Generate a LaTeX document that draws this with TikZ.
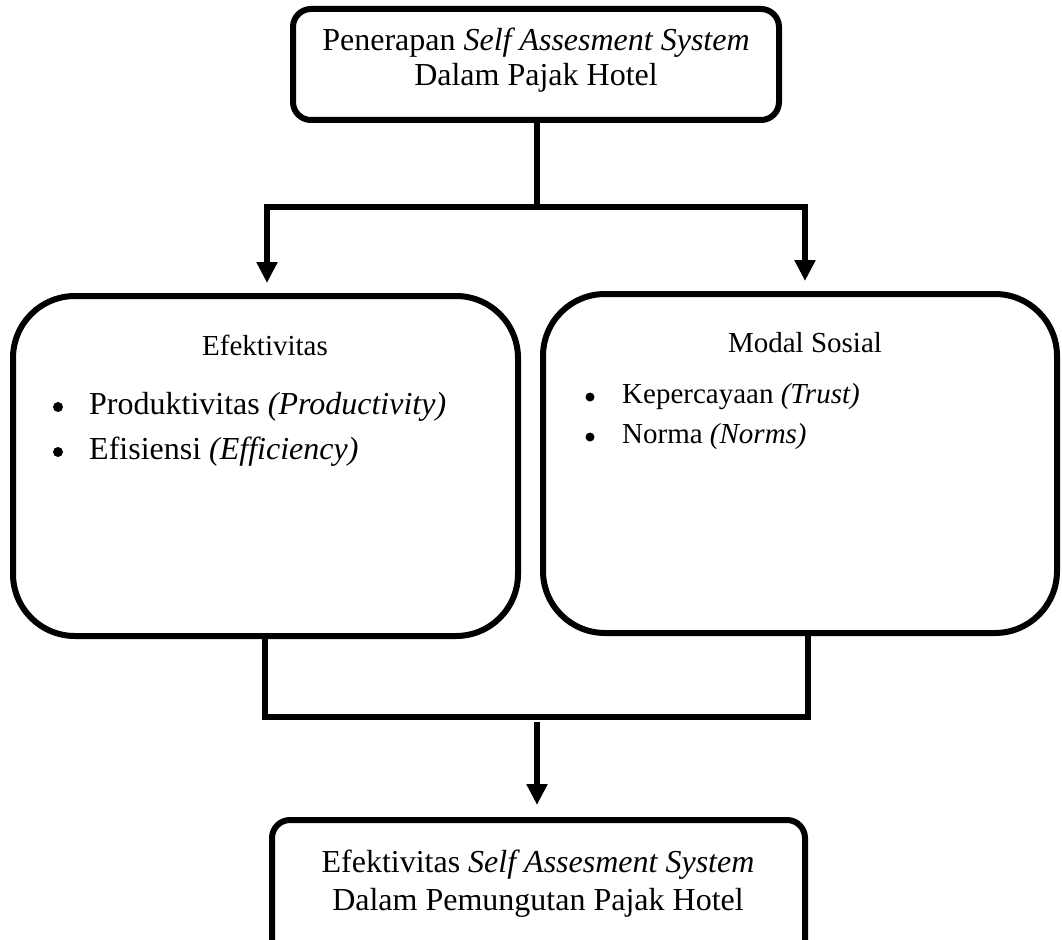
\documentclass[tikz,border=0pt]{standalone}
\usepackage{fontspec}
\setmainfont{Liberation Serif}
\usetikzlibrary{arrows.meta}
\begin{document}
\begin{tikzpicture}[x=1pt,y=-1pt,
  box/.style={draw, line width=6pt, rounded corners=18pt, inner sep=0pt},
  bigbox/.style={draw, line width=6pt, rounded corners=62pt, inner sep=0pt},
  conn/.style={line width=6pt},
  arr/.style={conn, -{Triangle[length=21pt,width=20pt]}},
  dot/.style={circle, fill, inner sep=0pt},
  ftop/.style={font=\fontsize{32}{35}\selectfont},
  fbot/.style={font=\fontsize{32}{38}\selectfont},
  fhead/.style={font=\fontsize{29}{33}\selectfont},
  fleft/.style={font=\fontsize{32}{38}\selectfont},
  fright/.style={font=\fontsize{29}{33}\selectfont}]
\clip (0,0) rectangle (1062,939);
\useasboundingbox (0,0) rectangle (1062,939);
% top box
\node[box, minimum width=486pt, minimum height=111pt] (top) at (536,64.5) {};
\node[ftop, align=center] (toptext) at (536,60) {Penerapan \textit{Self Assesment System}\\Dalam Pajak Hotel};
% big boxes
\node[bigbox, minimum width=505pt, minimum height=340pt] (left) at (265.5,466) {};
\node[bigbox, minimum width=514pt, minimum height=339pt] (right) at (800,463.5) {};
% left box text
\node[fhead] (lhead) at (265,345) {Efektivitas};
\node[dot, minimum size=10pt] (lb1) at (58,407) {};
\node[fleft, anchor=base west, inner sep=0pt] (lt1) at (89,414.5) {Produktivitas \textit{(Productivity)}};
\node[dot, minimum size=10pt] (lb2) at (58,452) {};
\node[fleft, anchor=base west, inner sep=0pt] (lt2) at (89,459.5) {Efisiensi \textit{(Efficiency)}};
% right box text
\node[fhead] (rhead) at (805,343) {Modal Sosial};
\node[dot, minimum size=9pt] (rb1) at (590,397) {};
\node[fright, anchor=base west, inner sep=0pt] (rt1) at (622,403.5) {Kepercayaan \textit{(Trust)}};
\node[dot, minimum size=9pt] (rb2) at (590,437) {};
\node[fright, anchor=base west, inner sep=0pt] (rt2) at (622,443.5) {Norma \textit{(Norms)}};
% bottom box
\node[box, minimum width=533pt, minimum height=160pt, anchor=north] (bot) at (538.5,817) {};
\node[fbot, align=center] (bottext) at (538,884) {Efektivitas \textit{Self Assesment System}\\Dalam Pemungutan Pajak Hotel};
% connectors top
\coordinate (j) at (537,207);
\coordinate (jl) at (267,207);
\coordinate (jr) at (805,207);
\coordinate (tl) at (267,283);
\coordinate (tr) at (805,281);
\draw[conn] (top.south -| j) -- (j);
\draw[conn, line cap=rect] (jl) -- (jr);
\draw[arr] (jl) -- (tl);
\draw[arr] (jr) -- (tr);
% connectors bottom
\coordinate (bl) at (265,717);
\coordinate (br) at (808,717);
\coordinate (bs) at (537,722);
\coordinate (bt) at (537,805);
\draw[conn] (left.south -| bl) -- (bl);
\draw[conn] (right.south -| br) -- (br);
\draw[conn, line cap=rect] (bl) -- (br);
\draw[arr] (bs) -- (bt);
\end{tikzpicture}
\end{document}
